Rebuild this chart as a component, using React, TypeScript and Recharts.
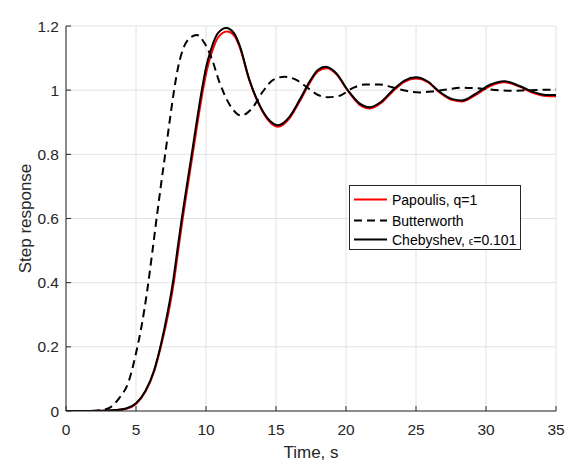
import React from 'react';
import { LineChart, Line, XAxis, YAxis, CartesianGrid, Legend } from 'recharts';

const chartTitle = 'n=9';
const xLabel = 'Time, s';
const yLabel = 'Step response';

const xTicks = [0, 5, 10, 15, 20, 25, 30, 35];
const yTicks = [0, 0.2, 0.4, 0.6, 0.8, 1, 1.2];

const papoulisTime = [0, 2, 3.3, 4.3, 5.0, 5.7, 6.3, 6.8, 7.3, 7.69, 7.99, 8.31, 8.66, 9.02, 9.37, 9.74, 10.04, 10.42, 10.88, 11.5, 12.05, 12.4, 13.1, 13.82, 14.41, 15.13, 15.96, 16.68, 17.39, 17.99, 18.6, 19.3, 20.13, 20.96, 21.7, 22.51, 23.34, 24.18, 25.0, 25.84, 26.68, 27.6, 28.3, 29.3, 30.25, 31.3, 32.4, 33.34, 34.3, 35];
const papoulisValues = [0, 0, 0.002, 0.007, 0.022, 0.062, 0.124, 0.205, 0.302, 0.398, 0.492, 0.592, 0.692, 0.792, 0.891, 0.99, 1.058, 1.118, 1.165, 1.183, 1.168, 1.135, 1.03, 0.952, 0.908, 0.886, 0.912, 0.964, 1.021, 1.058, 1.068, 1.05, 0.998, 0.955, 0.943, 0.96, 0.996, 1.026, 1.036, 1.025, 0.993, 0.969, 0.965, 0.986, 1.012, 1.025, 1.011, 0.992, 0.982, 0.981];

const butterTime = [0, 1, 2, 2.5, 3.1, 3.8, 4.5, 5.0, 5.4, 5.8, 6.12, 6.45, 6.78, 7.1, 7.41, 7.72, 8.05, 8.4, 8.85, 9.35, 9.9, 10.4, 10.95, 11.7, 12.5, 13.3, 14.05, 14.8, 15.6, 16.45, 17.3, 18.0, 18.7, 19.5, 20.5, 21.4, 22.4, 23.3, 24.3, 25.25, 26.2, 27.2, 28.3, 29.3, 30.3, 31.7, 33.1, 35];
const butterValues = [0, 0, 0.001, 0.003, 0.01, 0.04, 0.095, 0.18, 0.265, 0.375, 0.48, 0.593, 0.703, 0.805, 0.905, 1.0, 1.08, 1.132, 1.163, 1.172, 1.146, 1.1, 1.026, 0.954, 0.921, 0.944, 0.995, 1.032, 1.042, 1.032, 1.006, 0.985, 0.978, 0.982, 1.007, 1.018, 1.018, 1.009, 0.998, 0.993, 0.996, 1.002, 1.008, 1.006, 1.002, 0.998, 1.0, 1.002];

const chebTime = [0, 2, 3.3, 4.3, 5.0, 5.7, 6.3, 6.8, 7.27, 7.65, 7.95, 8.27, 8.62, 8.98, 9.33, 9.7, 10.0, 10.38, 10.84, 11.45, 12.0, 12.4, 13.1, 13.82, 14.41, 15.13, 15.96, 16.68, 17.39, 17.99, 18.55, 19.3, 20.13, 20.96, 21.7, 22.51, 23.34, 24.18, 25.0, 25.84, 26.68, 27.6, 28.3, 29.3, 30.25, 31.3, 32.4, 33.34, 34.3, 35];
const chebValues = [0, 0, 0.002, 0.008, 0.024, 0.065, 0.128, 0.211, 0.31, 0.405, 0.5, 0.6, 0.7, 0.8, 0.9, 1.0, 1.07, 1.13, 1.177, 1.194, 1.178, 1.14, 1.032, 0.954, 0.912, 0.891, 0.917, 0.969, 1.026, 1.063, 1.073, 1.053, 1.0, 0.959, 0.947, 0.964, 1.0, 1.03, 1.04, 1.027, 0.995, 0.972, 0.968, 0.99, 1.016, 1.028, 1.013, 0.995, 0.985, 0.985];

const toPoints = (t: number[], v: number[]) => t.map((x, i) => ({ t: x, y: v[i] }));
const papoulisData = toPoints(papoulisTime, papoulisValues);
const butterData = toPoints(butterTime, butterValues);
const chebData = toPoints(chebTime, chebValues);

const FONT = '"Liberation Sans", Arial, Helvetica, sans-serif';
const AXIS = '#262626';
const TICK_LEN = 5;

const fmtY = (v: number) => String(Math.round(v * 10) / 10);

const BottomTick = (props: any) => {
  const { x, y, payload } = props;
  return (
    <g>
      <line x1={x} x2={x} y1={y} y2={y - TICK_LEN} stroke={AXIS} strokeWidth={1} />
      <text x={x} y={y + 24} textAnchor="middle" fill={AXIS} fontSize={15.5} fontFamily={FONT}>
        {payload.value}
      </text>
    </g>
  );
};

const TopTick = (props: any) => {
  const { x, y } = props;
  return <line x1={x} x2={x} y1={y} y2={y + TICK_LEN} stroke={AXIS} strokeWidth={1} />;
};

const LeftTick = (props: any) => {
  const { x, y, payload } = props;
  return (
    <g>
      <line x1={x} x2={x + TICK_LEN} y1={y} y2={y} stroke={AXIS} strokeWidth={1} />
      <text x={x - 7} y={y} dy="0.36em" textAnchor="end" fill={AXIS} fontSize={15.5} fontFamily={FONT}>
        {fmtY(payload.value)}
      </text>
    </g>
  );
};

const RightTick = (props: any) => {
  const { x, y } = props;
  return <line x1={x} x2={x - TICK_LEN} y1={y} y2={y} stroke={AXIS} strokeWidth={1} />;
};

const legendItems = [
  { key: 'pap', label: 'Papoulis, q=1', color: '#ff0000', dash: undefined as string | undefined, rowY: 14.5 },
  { key: 'but', label: 'Butterworth', color: '#000000', dash: '8 5', rowY: 35.5 },
  { key: 'che', label: 'Chebyshev, ', color: '#000000', dash: undefined as string | undefined, rowY: 54.5 },
];

const renderLegend = () => (
  <svg width={172} height={65} style={{ display: 'block' }}>
    <rect x={0.5} y={0.5} width={171} height={64} fill="#ffffff" stroke={AXIS} strokeWidth={1} />
    {legendItems.map((it) => (
      <g key={it.key}>
        <line x1={5} x2={38} y1={it.rowY} y2={it.rowY} stroke={it.color} strokeWidth={2} strokeDasharray={it.dash} />
        <text x={43} y={it.rowY} dy="0.36em" fontSize={14} fontFamily={FONT} fill="#000">
          {it.label}
          {it.key === 'che' ? (
            <>
              <tspan fontSize={10}>ϵ</tspan>
              <tspan>=0.101</tspan>
            </>
          ) : null}
        </text>
      </g>
    ))}
  </svg>
);

export default function App() {
  return (
    <div style={{ position: 'absolute', left: 0, top: 0, width: 577, height: 468, background: '#fff' }}>
      <LineChart width={577} height={468} margin={{ top: 26, right: 21, bottom: 0, left: 0 }}>
        <CartesianGrid stroke="#e2e2e2" strokeWidth={1} />
        <XAxis
          dataKey="t"
          type="number"
          domain={[0, 35]}
          ticks={xTicks}
          interval={0}
          height={57}
          tickSize={0}
          tickMargin={0}
          tickLine={false}
          axisLine={{ stroke: AXIS, strokeWidth: 1 }}
          tick={BottomTick}
          allowDataOverflow
          label={{
            content: (p: any) => {
              const vb = p.viewBox || { x: 66, y: 411, width: 490 };
              return (
                <text x={vb.x + vb.width / 2} y={vb.y + 46.5} textAnchor="middle" fill={AXIS} fontSize={17} fontFamily={FONT}>
                  {xLabel}
                </text>
              );
            },
          }}
        />
        <XAxis
          xAxisId="top"
          orientation="top"
          dataKey="t"
          type="number"
          domain={[0, 35]}
          ticks={xTicks}
          interval={0}
          height={0}
          tickSize={0}
          tickMargin={0}
          tickLine={false}
          axisLine={{ stroke: AXIS, strokeWidth: 1 }}
          tick={TopTick}
          allowDataOverflow
          label={{
            content: (p: any) => {
              const vb = p.viewBox || { x: 66, y: 26, width: 490 };
              return (
                <text x={vb.x + vb.width / 2} y={vb.y - 8} textAnchor="middle" fill={AXIS} fontSize={16.5} fontFamily={FONT}>
                  {chartTitle}
                </text>
              );
            },
          }}
        />
        <YAxis
          type="number"
          domain={[0, 1.2]}
          ticks={yTicks}
          interval={0}
          width={66}
          tickSize={0}
          tickMargin={0}
          tickLine={false}
          axisLine={{ stroke: AXIS, strokeWidth: 1 }}
          tick={LeftTick}
          allowDataOverflow
          label={{
            content: (p: any) => {
              const vb = p.viewBox || { x: 0, y: 26, width: 66, height: 385 };
              const cx = 31;
              const cy = vb.y + vb.height / 2;
              return (
                <text x={cx} y={cy} transform={`rotate(-90, ${cx}, ${cy})`} textAnchor="middle" fill={AXIS} fontSize={17} fontFamily={FONT}>
                  {yLabel}
                </text>
              );
            },
          }}
        />
        <YAxis
          yAxisId="right"
          orientation="right"
          type="number"
          domain={[0, 1.2]}
          ticks={yTicks}
          interval={0}
          width={0}
          tickSize={0}
          tickMargin={0}
          tickLine={false}
          axisLine={{ stroke: AXIS, strokeWidth: 1 }}
          tick={RightTick}
          allowDataOverflow
        />
        <Legend
          content={renderLegend}
          verticalAlign="middle"
          align="center"
          layout="horizontal"
          wrapperStyle={{ left: 349, top: 185, width: 172, height: 65 }}
        />
        <Line data={papoulisData} dataKey="y" name="Papoulis, q=1" type="monotone" stroke="#ff0000" strokeWidth={2} dot={false} isAnimationActive={false} />
        <Line data={butterData} dataKey="y" name="Butterworth" type="monotone" stroke="#000000" strokeWidth={2} strokeDasharray="8 5" dot={false} isAnimationActive={false} />
        <Line data={chebData} dataKey="y" name="Chebyshev" type="monotone" stroke="#000000" strokeWidth={2} dot={false} isAnimationActive={false} />
      </LineChart>
    </div>
  );
}
